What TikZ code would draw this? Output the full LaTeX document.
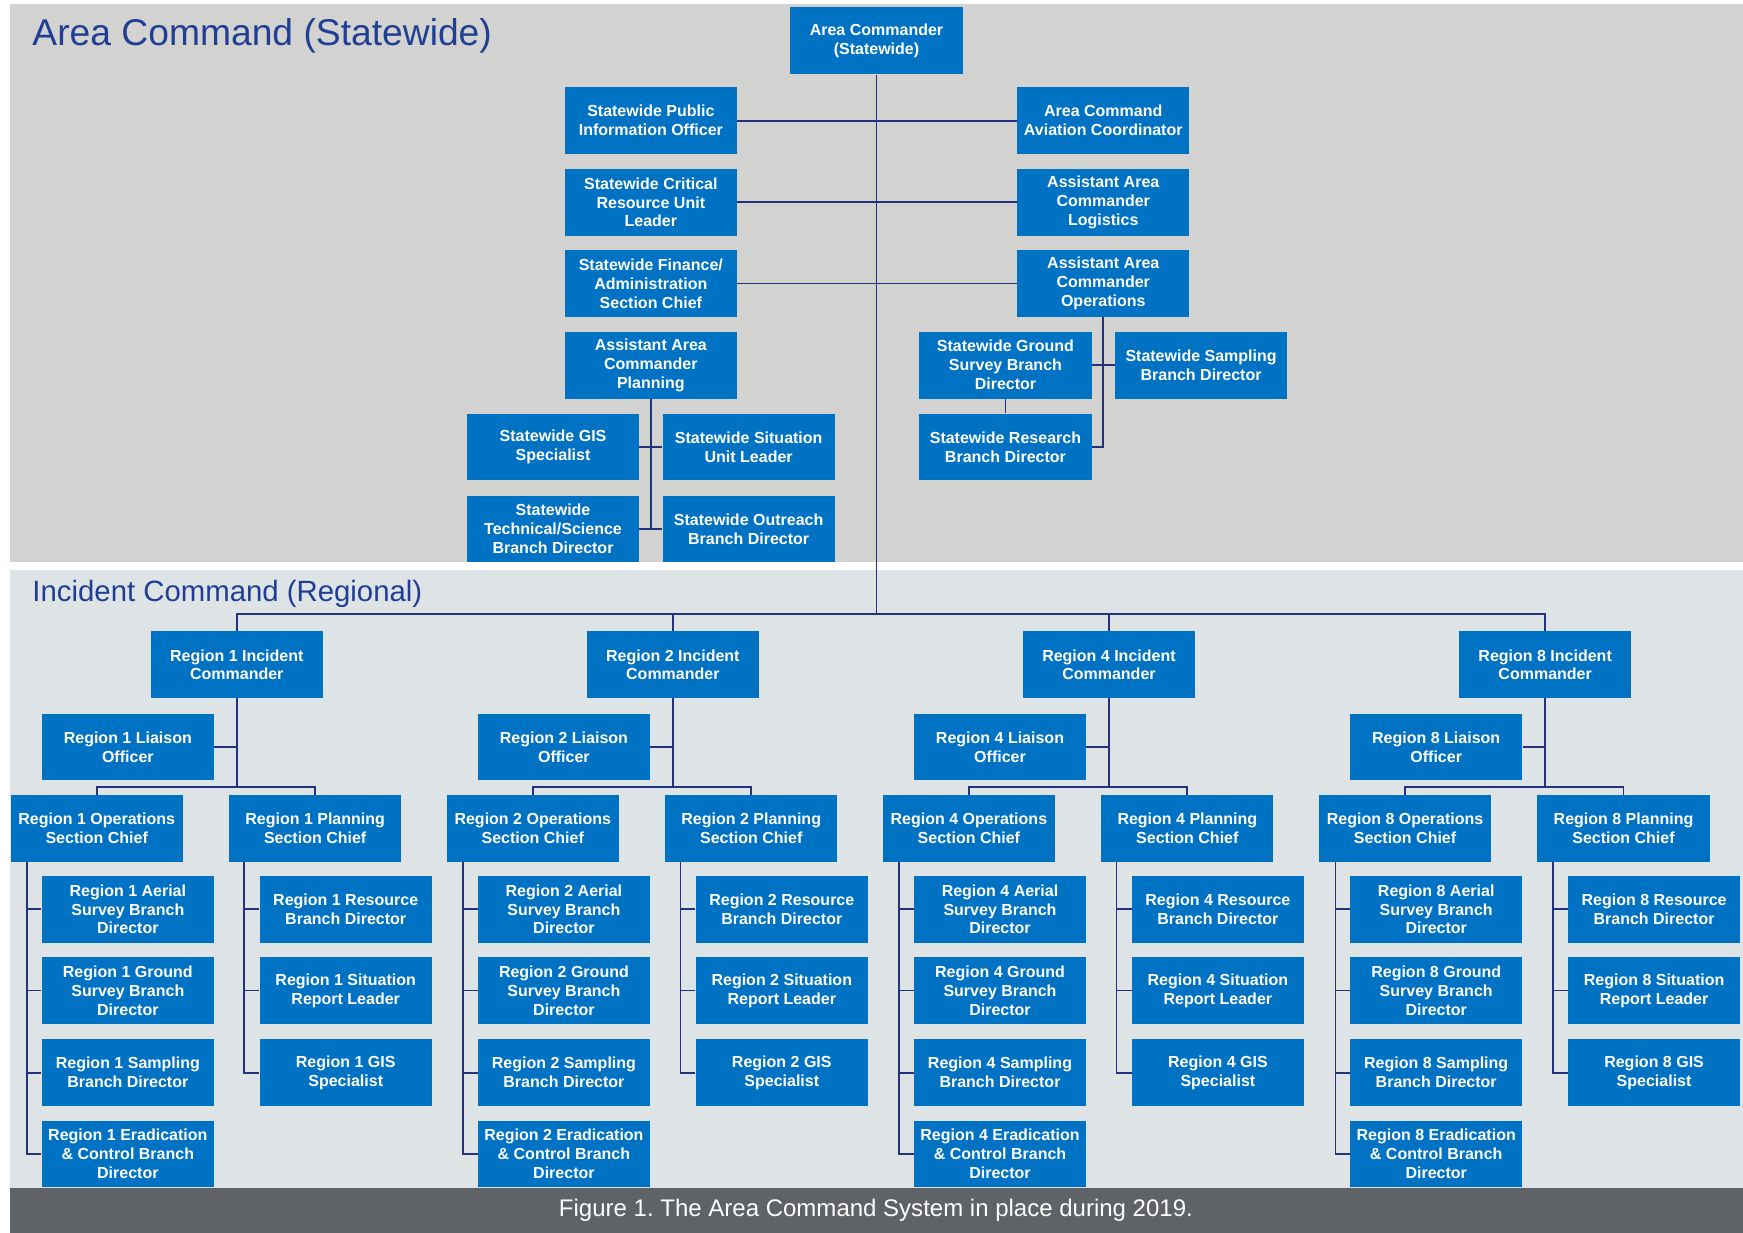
\documentclass[tikz,border=0pt]{standalone}
\usepackage{fontspec}
\setmainfont{Liberation Sans}
\frenchspacing
\definecolor{topgrey}{RGB}{210,210,208}
\definecolor{botgrey}{RGB}{222,227,230}
\definecolor{capgrey}{RGB}{95,98,102}
\definecolor{boxblue}{RGB}{0,114,196}
\definecolor{linecol}{RGB}{35,50,125}
\definecolor{titleblue}{RGB}{32,63,148}
\begin{document}
\begin{tikzpicture}[x=1pt,y=-1pt,
  box/.style={fill=boxblue,text=white,minimum width=155pt,minimum height=60pt,inner sep=0pt,align=center,
    font=\fontsize{14.4}{17}\selectfont\bfseries},
  conn/.style={draw=linecol,line width=1.6pt},
  title/.style={text=titleblue,inner sep=0pt,anchor=base west}]
\useasboundingbox (0,0) rectangle (1568,1109);
\fill[white] (0,0) rectangle (1568,1109);
% backgrounds
\fill[topgrey] (9,4) rectangle (1568,506);
\fill[botgrey] (9,513) rectangle (1568,1069);
\fill[capgrey] (9,1069) rectangle (1568,1109);
\node[title,font=\fontsize{33.5}{38}\selectfont] (t1) at (29,40.5) {Area Command (Statewide)};
\node[title,font=\fontsize{26.4}{30}\selectfont] (t2) at (29,541) {Incident Command (Regional)};
\node[text=white,inner sep=0pt,font=\fontsize{21.6}{24}\selectfont] (cap) at (788,1089) {Figure 1. The Area Command System in place during 2019.};
% top boxes
\node[box,minimum height=61pt] (ac) at (788.5,36.5) {Area Commander\\(Statewide)};
\node[box] (spio) at (585.5,108.5) {Statewide Public\\Information Officer};
\node[box] (acac) at (992.5,108.5) {Area Command\\Aviation Coordinator};
\node[box] (scrul) at (585.5,182) {Statewide Critical\\Resource Unit\\Leader};
\node[box] (aacl) at (992.5,182) {Assistant Area\\Commander\\Logistics};
\node[box] (sfasc) at (585.5,255) {Statewide Finance/\\Administration\\Section Chief};
\node[box] (aaco) at (992.5,255) {Assistant Area\\Commander\\Operations};
\node[box] (aacp) at (585.5,328.5) {Assistant Area\\Commander\\Planning};
\node[box] (sgsbd) at (904.5,328.5) {Statewide Ground\\Survey Branch\\Director};
\node[box] (ssbd) at (1080.5,328.5) {Statewide Sampling\\Branch Director};
\node[box] (srbd) at (904.5,402) {Statewide Research\\Branch Director};
\node[box] (sgis) at (497.5,402) {Statewide GIS\\Specialist};
\node[box] (ssul) at (673.5,402) {Statewide Situation\\Unit Leader};
\node[box] (stsbd) at (497.5,476) {Statewide\\Technical/Science\\Branch Director};
\node[box] (sobd) at (673.5,476) {Statewide Outreach\\Branch Director};
% top connectors
\coordinate (hbar) at (788.5,552);
\draw[conn] (ac.south) -- (hbar);
\draw[conn] (spio.east) -- (acac.west);
\draw[conn] (scrul.east) -- (aacl.west);
\draw[conn] (sfasc.east) -- (aaco.west);
\draw[conn] (aacp.south) -- (aacp.south |- stsbd.east);
\draw[conn] (sgis.east) -- (ssul.west);
\draw[conn] (stsbd.east) -- (sobd.west);
\draw[conn] (aaco.south) |- (srbd.east);
\draw[conn] (sgsbd.east) -- (ssbd.west);
\draw[conn] (sgsbd.south) -- (srbd.north);
% regions
\foreach \n/\o in {1/0,2/392.3,4/784.6,8/1177}{
  \node[box] (ic\n) at (213+\o,598) {Region \n\ Incident\\Commander};
  \node[box] (li\n) at (115+\o,672) {Region \n\ Liaison\\Officer};
  \node[box] (ops\n) at (87+\o,745) {Region \n\ Operations\\Section Chief};
  \node[box] (pl\n) at (283.5+\o,745) {Region \n\ Planning\\Section Chief};
  \node[box] (ae\n) at (115+\o,818) {Region \n\ Aerial\\Survey Branch\\Director};
  \node[box] (gr\n) at (115+\o,891) {Region \n\ Ground\\Survey Branch\\Director};
  \node[box] (sa\n) at (115+\o,965) {Region \n\ Sampling\\Branch Director};
  \node[box] (er\n) at (115+\o,1038) {Region \n\ Eradication\\\& Control Branch\\Director};
  \node[box] (re\n) at (311+\o,818) {Region \n\ Resource\\Branch Director};
  \node[box] (si\n) at (311+\o,891) {Region \n\ Situation\\Report Leader};
  \node[box] (gi\n) at (311+\o,965) {Region \n\ GIS\\Specialist};
  \coordinate (j\n) at (213+\o,708);
  \coordinate (ov\n) at ([xshift=15pt]ops\n.south west);
  \coordinate (pv\n) at ([xshift=14pt]pl\n.south west);
  \draw[conn] (ic\n.south) -- (j\n);
  \draw[conn] (li\n.east) -- (li\n.east -| ic\n.south);
  \draw[conn] (ops\n.north) |- (j\n) -| (pl\n.north);
  \draw[conn] (ov\n) |- (er\n.west);
  \draw[conn] (ae\n.west) -- (ae\n.west -| ov\n);
  \draw[conn] (gr\n.west) -- (gr\n.west -| ov\n);
  \draw[conn] (sa\n.west) -- (sa\n.west -| ov\n);
  \draw[conn] (pv\n) |- (gi\n.west);
  \draw[conn] (re\n.west) -- (re\n.west -| pv\n);
  \draw[conn] (si\n.west) -- (si\n.west -| pv\n);
}
\draw[conn] (ic1.north) |- (hbar) -| (ic8.north);
\draw[conn] (ic2.north) -- (ic2.north |- hbar);
\draw[conn] (ic4.north) -- (ic4.north |- hbar);
\end{tikzpicture}
\end{document}
